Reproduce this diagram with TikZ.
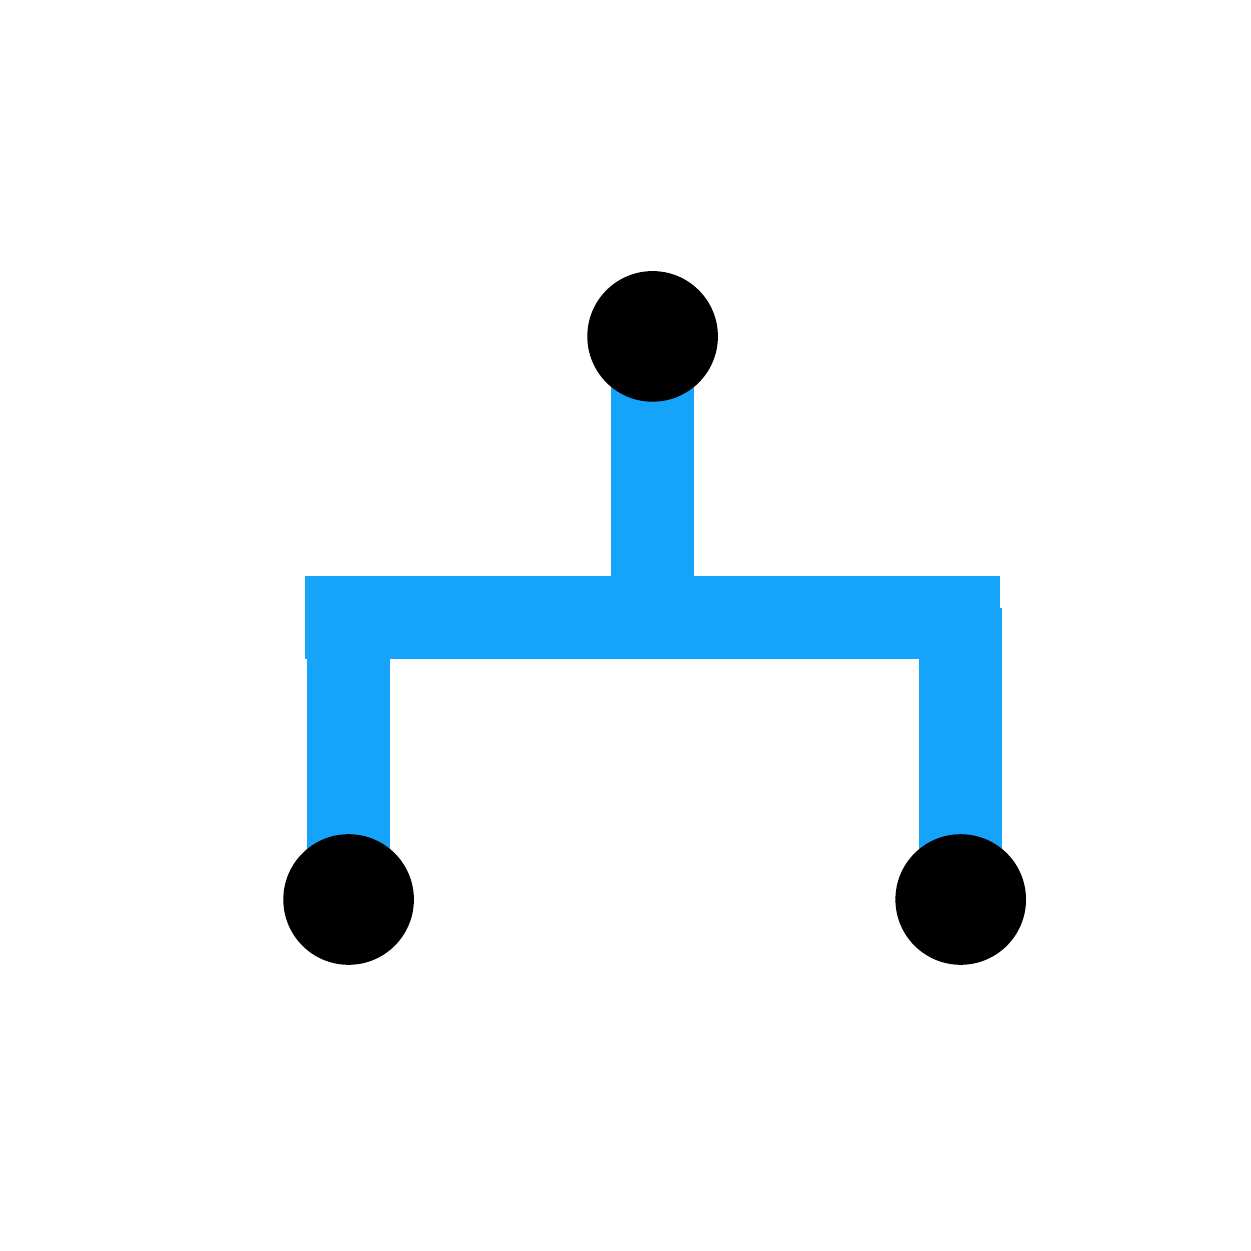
\documentclass[tikz,border=0pt]{standalone}
\usepackage{tikz}

\definecolor{branchblue}{RGB}{22,164,250}
\tikzset{every picture/.style={line width=0.75pt}}
\tikzset{
  leafdot/.style={circle, fill=black, inner sep=0pt, minimum size=97.95pt},
  branch/.style={draw=branchblue, line width=62.25pt, line cap=butt}
}

\begin{document}
\begin{tikzpicture}[x=0.75pt,y=0.75pt,yscale=-1,xscale=1]
\useasboundingbox (0,0) rectangle (1251,1251);

%Coordinates of the dots and joints
\coordinate (rootc) at (652.6,336.4);
\coordinate (leftc) at (348.6,899.5);
\coordinate (rightc) at (960.7,899.5);
\coordinate (rootj) at (652.6,617.5);
\coordinate (barl) at (305.4,617.5);
\coordinate (barr) at (1000,617.5);
\coordinate (leftj) at (348.6,617.5);
\coordinate (rightj) at (960.7,608);

%Straight Lines
\draw [branch] (rootc) -- (rootj) ;
%Straight Lines
\draw [branch] (barl) -- (barr) ;
%Straight Lines
\draw [branch] (leftj) -- (leftc) ;
%Straight Lines
\draw [branch] (rightj) -- (rightc) ;

%Shape: Circle
\node [leafdot] (root) at (rootc) {};
%Shape: Circle
\node [leafdot] (left) at (leftc) {};
%Shape: Circle
\node [leafdot] (right) at (rightc) {};

\end{tikzpicture}
\end{document}
